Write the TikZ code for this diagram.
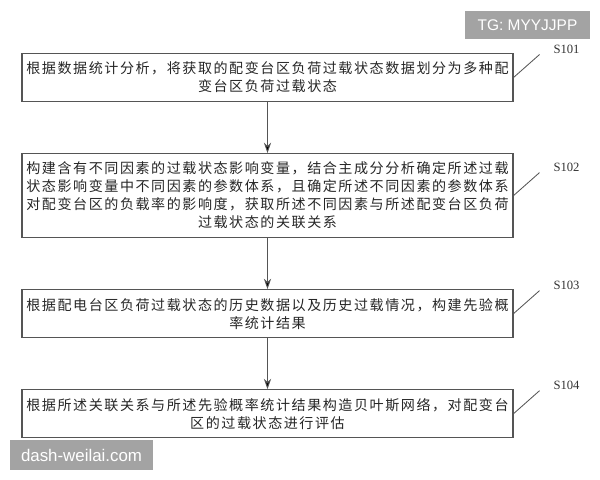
\documentclass[tikz,border=0pt]{standalone}
\usepackage{fontspec}
\setmainfont{Liberation Serif}
\setsansfont{Liberation Sans}
\newfontfamily\cjk[LetterSpace=11]{Noto Sans CJK SC}
\usepackage{tikz}
\usetikzlibrary{arrows.meta,positioning}
\definecolor{boxgray}{HTML}{555555}
\definecolor{markgray}{HTML}{A3A3A3}

\begin{document}
\begin{tikzpicture}[>={Stealth[length=2.6mm,width=1.8mm]},node distance=1.275cm,semithick]
  \tikzstyle{stepbox}=[draw=boxgray,line width=0.75pt,minimum width=12.275cm,minimum height=1.2cm,
                       inner sep=0pt,align=center,text=black!85,
                       font=\cjk\fontsize{10}{12.8}\selectfont]
  \tikzstyle{steplabel}=[font=\fontsize{9}{10}\selectfont,text=black!80]
  \tikzstyle{wmark}=[fill=markgray,text=white,inner sep=0pt,font=\sffamily]

  \useasboundingbox (0,0) rectangle (15,-12);

  \node[stepbox,anchor=north] (b1) at (6.6875,-1.325)
    {根据数据统计分析，将获取的配变台区负荷过载状态数据划分为多种配\\变台区负荷过载状态};
  \node[stepbox,minimum height=2.1cm] (b2) [below=of b1]
    {构建含有不同因素的过载状态影响变量，结合主成分分析确定所述过载\\
     状态影响变量中不同因素的参数体系，且确定所述不同因素的参数体系\\
     对配变台区的负载率的影响度，获取所述不同因素与所述配变台区负荷\\
     过载状态的关联关系};
  \node[stepbox] (b3) [below=of b2]
    {根据配电台区负荷过载状态的历史数据以及历史过载情况，构建先验概\\率统计结果};
  \node[stepbox] (b4) [below=of b3]
    {根据所述关联关系与所述先验概率统计结果构造贝叶斯网络，对配变台\\区的过载状态进行评估};

  \path[->,draw=boxgray] (b1) edge (b2)
                         (b2) edge (b3)
                         (b3) edge (b4);

  % step numbers on the right
  \foreach \i in {1,...,4} {
    \coordinate (t\i) at ([shift={(0.65cm,0.575cm)}]b\i.east);
    \draw[boxgray] (b\i.east) -- (t\i);
    \node[steplabel] (s\i) at ([shift={(0.675cm,0.14cm)}]t\i) {S10\i};
  }

  % watermarks
  \node[wmark,minimum width=3.125cm,minimum height=0.7cm,font=\sffamily\fontsize{11}{13}\selectfont]
    (tg) at (13.1875,-0.625) {TG: MYYJJPP};
  \node[wmark,minimum width=3.575cm,minimum height=0.75cm,font=\sffamily\fontsize{12}{14}\selectfont]
    (site) at (2.0375,-11.375) {dash-weilai.com};
\end{tikzpicture}
\end{document}
